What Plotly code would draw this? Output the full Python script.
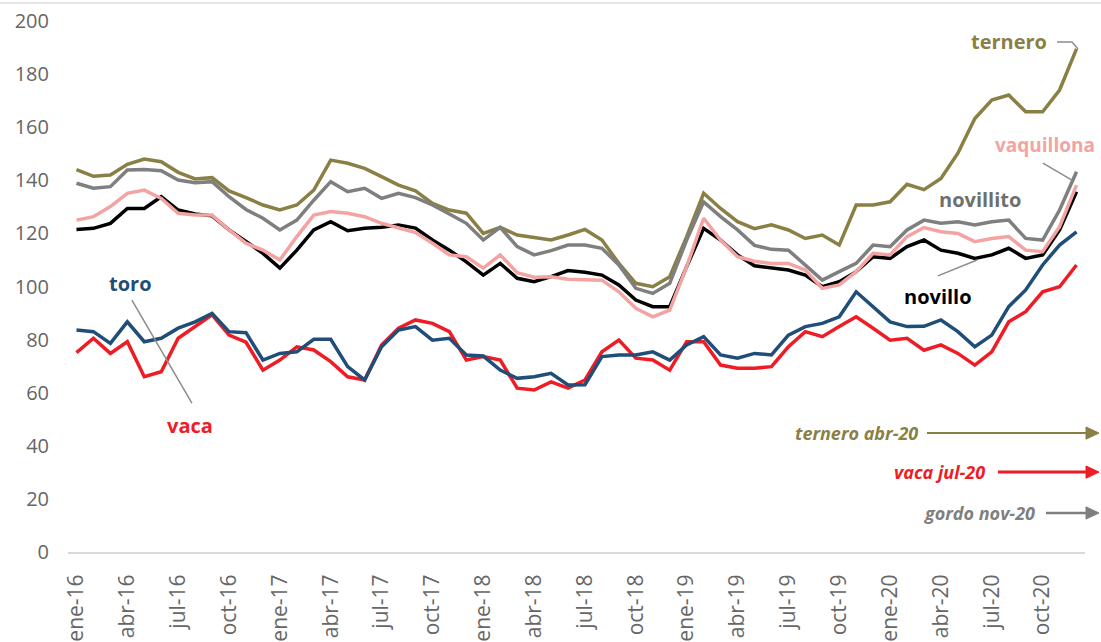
import plotly.graph_objects as go

month_names = ["ene", "feb", "mar", "abr", "may", "jun", "jul", "ago", "sep", "oct", "nov", "dic"]
years = ["16", "17", "18", "19", "20"]
months = [f"{m}-{y}" for y in years for m in month_names]

ternero = [144, 141.5, 142, 146, 148, 147, 143, 140.5, 141, 136, 133.5, 130.7,
           128.8, 130.7, 136.3, 147.6, 146.4, 144.5, 141.4, 138.2, 136, 131.3, 128.8, 127.6,
           120, 122.3, 119.4, 118.5, 117.5, 119.4, 121.5, 117.5, 108.7, 101.2, 99.9, 103.7,
           118.8, 135.1, 129.4, 124.4, 121.8, 123.2, 121.3, 118.1, 119.4, 115.6, 130.7, 130.7,
           131.9, 138.5, 136.5, 140.7, 150.2, 163.3, 170.2, 172.1, 165.8, 165.8, 174, 189.5]

novillito = [138.9, 137, 137.6, 143.9, 144.1, 143.6, 140.1, 139.1, 139.5, 133.8, 129, 125.7,
             121.3, 125, 132.5, 139.5, 135.7, 137, 133.2, 135.1, 133.5, 130.7, 127.3, 123.8,
             117.5, 122.3, 115, 111.9, 113.5, 115.6, 115.6, 114.4, 108.1, 99.3, 97.4, 101.2,
             117.5, 131.9, 126.3, 121.3, 115.5, 114, 113.7, 108.1, 102.4, 105.6, 108.7, 115.6,
             115, 121.3, 125, 123.8, 124.4, 123.2, 124.4, 125, 118.1, 117.5, 128.8, 143.2]

vaquillona = [125, 126.3, 130.1, 135.1, 136.3, 133.2, 127.6, 126.9, 126.9, 121.3, 116.3, 113.7,
              110, 118.8, 126.9, 128.2, 127.6, 126.3, 123.8, 121.9, 120.3, 116.3, 111.9, 111.2,
              106.9, 111.9, 105.2, 103.5, 103.7, 102.7, 102.4, 102.4, 98, 91.8, 88.6, 91.1,
              107.5, 125.7, 117.5, 111.2, 109.5, 108.7, 108.7, 106.2, 99.3, 100.6, 105.6, 112.5,
              111.9, 118.8, 122.2, 120.6, 120, 116.9, 118.1, 118.8, 113.7, 113.1, 122.5, 138.2]

novillo = [121.5, 121.9, 123.8, 129.4, 129.4, 133.8, 128.8, 127.3, 126.6, 121.3, 117, 112.5,
           106.9, 113.7, 121.3, 124.4, 121, 121.9, 122.3, 123.2, 122, 117.5, 113.7, 109.3,
           104.3, 108.7, 103.1, 101.8, 103.7, 106, 105.4, 104.3, 100.6, 94.9, 92.4, 92.4,
           107.5, 121.9, 117.5, 111.9, 107.8, 106.9, 106.2, 104.3, 99.9, 101.8, 105.6, 111.2,
           110.6, 115, 117.5, 113.7, 112.5, 110.6, 111.9, 114.4, 110.6, 111.9, 121.3, 135.7]

toro = [83.6, 83, 78.6, 86.7, 79.2, 80.5, 84.3, 86.7, 89.9, 83, 82.6, 72.3,
        74.8, 75.4, 80.1, 80.1, 69.8, 64.8, 77.3, 83.6, 84.9, 79.8, 80.5, 74.2,
        73.8, 68.5, 65.4, 66, 67.3, 62.9, 63, 73.6, 74.2, 74.2, 75.4, 72.3,
        78, 81.1, 74.2, 73, 74.8, 74.2, 81.7, 84.9, 86.1, 88.6, 98, 92.4,
        86.7, 84.9, 85, 87.4, 83, 77.3, 81.7, 92.4, 98.7, 108.1, 115.6, 120.6]

vaca = [75.1, 80.5, 74.8, 79.2, 66, 67.9, 80.5, 84.9, 89.3, 81.7, 79, 68.5,
        72.3, 77.3, 76.1, 71.7, 66, 64.8, 78, 84.3, 87.4, 86.1, 83, 72.3,
        73.6, 72.3, 61.7, 61, 64.1, 61.7, 64.8, 75.4, 79.8, 73, 72.3, 68.5,
        79.2, 79.2, 70.4, 69.2, 69.2, 69.8, 77.3, 83, 81.1, 84.9, 88.6, 84.3,
        79.8, 80.5, 76, 78, 74.8, 70.4, 75.4, 86.7, 90.5, 98, 99.9, 108.1]

tick_labels = months[::3]

C_TERNERO = "#8A7F45"
C_NOVILLITO = "#7F7F7F"
C_VAQUILLONA = "#F4A3A3"
C_NOVILLO = "#000000"
C_TORO = "#1F4E79"
C_VACA = "#EE1C25"
FONT = "Open Sans"

idx = list(range(len(months)))

fig = go.Figure()
series = [
    ("ternero", ternero, C_TERNERO),
    ("novillito", novillito, C_NOVILLITO),
    ("novillo", novillo, C_NOVILLO),
    ("vaquillona", vaquillona, C_VAQUILLONA),
    ("vaca", vaca, C_VACA),
    ("toro", toro, C_TORO),
]
for name, vals, col in series:
    fig.add_trace(go.Scatter(x=idx, y=vals, mode="lines", name=name,
                             line=dict(color=col, width=3.5), hoverinfo="skip"))

# leader lines (data coordinates)
lead = dict(color="#8C8C8C", width=1.5)
fig.add_shape(type="path", path="M 57.85,192.1 L 58.73,192.1 L 59.09,189.5",
              xref="x", yref="y", line=lead)
fig.add_shape(type="line", x0=57.02, y0=146.5, x1=58.73, y1=140.1, xref="x", yref="y", line=lead)
fig.add_shape(type="line", x0=50.82, y0=104, x1=53.13, y1=110, xref="x", yref="y", line=lead)
fig.add_shape(type="line", x0=3.27, y0=94.9, x1=6.81, y1=56.1, xref="x", yref="y", line=lead)

# top border line
fig.add_shape(type="line", x0=-0.1, x1=1.1, y0=1.034, y1=1.034, xref="paper", yref="paper",
              line=dict(color="#E6E6E6", width=2))


def px(p):
    return (p - 68) / 1017.0


def lab(text, x, y, col, size=20, xanchor="center", xref="x"):
    fig.add_annotation(x=x, y=y, xref=xref, yref="y", text=f"<b>{text}</b>", showarrow=False,
                       font=dict(family=FONT, size=size, color=col), xanchor=xanchor, yanchor="middle")


lab("ternero", 55.0, 192.1, C_TERNERO)
lab("vaquillona", px(1097), 153.3, C_VAQUILLONA, size=19, xanchor="right", xref="paper")
lab("novillito", 53.3, 132.6, "#6F6F6F")
lab("novillo", 50.8, 96.4, C_NOVILLO)
lab("toro", 3.16, 101.3, C_TORO)
lab("vaca", 6.7, 47.8, C_VACA)

# bottom-right arrow notes
notes = [
    ("ternero abr-20", 920, 44.8, 927, C_TERNERO, 2),
    ("vaca jul-20", 987, 30.1, 998, C_VACA, 3),
    ("gordo nov-20", 1037, 14.7, 1046, C_NOVILLITO, 2.5),
]
tip, base, half = 1099, 1086, 2.3
for text, tx, yv, tail, col, w in notes:
    fig.add_annotation(x=px(tx), y=yv, xref="paper", yref="y", text=f"<b><i>{text}</i></b>",
                       showarrow=False, xanchor="right", yanchor="middle",
                       font=dict(family=FONT, size=18, color=col))
    fig.add_shape(type="line", xref="paper", yref="y", x0=px(tail), x1=px(base + 1), y0=yv, y1=yv,
                  line=dict(color=col, width=w))
    fig.add_shape(type="path", xref="paper", yref="y",
                  path=f"M {px(base)},{yv - half} L {px(tip)},{yv} L {px(base)},{yv + half} Z",
                  fillcolor=col, line=dict(color=col, width=1))

fig.update_layout(
    width=1101, height=642,
    margin=dict(l=68, r=16, t=21, b=90, autoexpand=False),
    paper_bgcolor="white", plot_bgcolor="white",
    showlegend=False,
    font=dict(family=FONT, color="#666666"),
)
fig.update_xaxes(
    range=[-0.5, len(months) - 0.5],
    tickmode="array", tickvals=idx[::3], ticktext=tick_labels,
    tickangle=-90, tickfont=dict(family=FONT, size=21, color="#666666"),
    showgrid=False, zeroline=False, showline=True, linecolor="#D9D9D9", linewidth=2,
    ticks="", ticklabelstandoff=12, automargin=False,
)
fig.update_yaxes(
    range=[0, 200], dtick=20, tickfont=dict(family=FONT, size=20, color="#666666"),
    showgrid=False, zeroline=False, showline=False, ticks="", ticklabelstandoff=18,
    automargin=False,
)

fig.write_html("out.html", config={"displayModeBar": False},
               post_script="document.body.style.margin='0';document.body.style.overflow='hidden';")
